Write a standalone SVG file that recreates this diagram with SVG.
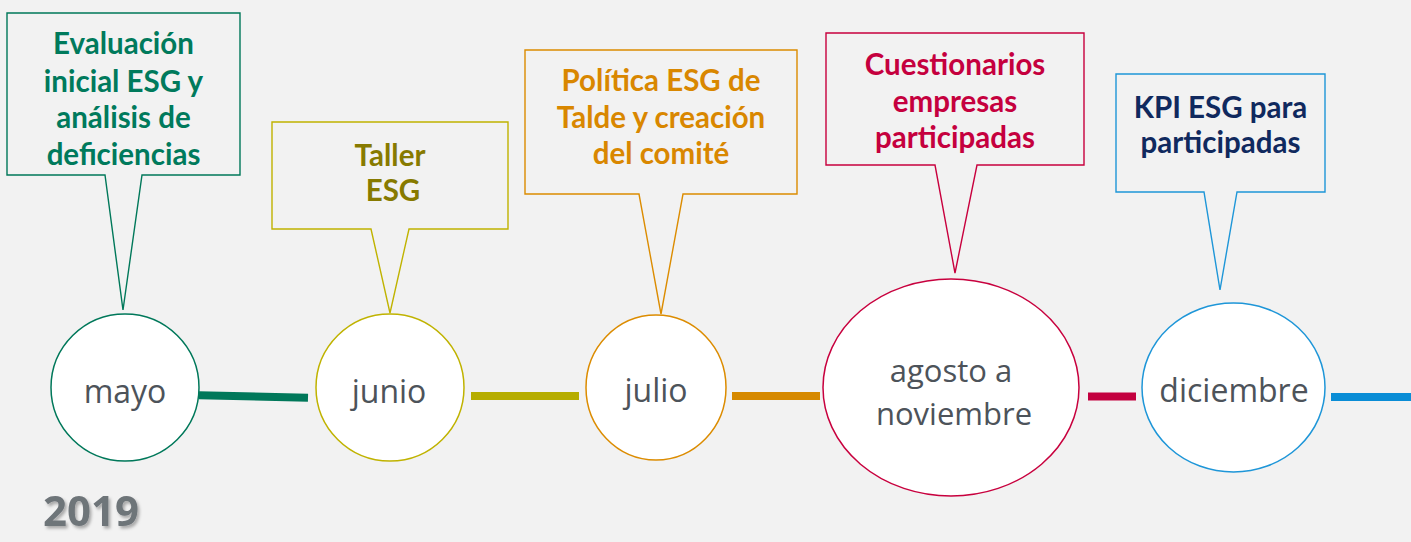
<svg xmlns="http://www.w3.org/2000/svg" width="1411" height="542" viewBox="0 0 1411 542">
<style>
.bg{fill:#f2f2f2}
.box{fill:#f2f2f2;stroke-width:1.4;stroke-linejoin:miter}
.node{fill:#ffffff;stroke-width:1.5}
.lbl{font-family:"Lato","Open Sans","Liberation Sans",sans-serif;font-weight:700;font-size:29.5px;text-anchor:middle}
.mon{font-family:"Open Sans","Noto Sans","Liberation Sans",sans-serif;font-weight:400;font-size:32px;fill:#4d535a;text-anchor:middle}
.mon2{font-size:31px}
.con{stroke-width:8;fill:none;stroke-linecap:butt}
.year{font-family:"Open Sans","Liberation Sans",sans-serif;font-weight:700;font-size:42px;fill:#6e7479}
</style>
<defs>
<filter id="shadow" x="-20%" y="-20%" width="150%" height="160%">
<feDropShadow dx="2" dy="2.5" stdDeviation="1.5" flood-color="#000000" flood-opacity="0.3"/>
</filter>
</defs>
<rect class="bg" x="0" y="0" width="1411" height="542"/>

<g id="connectors">
<line class="con" x1="199" y1="395.3" x2="308" y2="397.8" stroke="#00785a"/>
<line class="con" x1="471" y1="396" x2="579" y2="396" stroke="#b6ad00"/>
<line class="con" x1="732" y1="396" x2="820" y2="396" stroke="#d68900"/>
<line class="con" x1="1088" y1="396.5" x2="1136" y2="396.5" stroke="#c3003f"/>
<line class="con" x1="1331" y1="397" x2="1411" y2="397" stroke="#0a8dd6"/>
</g>

<g id="callout-evaluacion">
<path class="box" stroke="#00785a" d="M7,13 H240 V175 H142 L123,310 L105,175 H7 Z"/>
<text class="lbl" fill="#007a5c" x="123.5" y="54">Evaluación</text>
<text class="lbl" fill="#007a5c" x="123.5" y="91.5">inicial ESG y</text>
<text class="lbl" fill="#007a5c" x="123.5" y="128">análisis de</text>
<text class="lbl" fill="#007a5c" x="123.5" y="164.5">deficiencias</text>
</g>

<g id="callout-taller">
<path class="box" stroke="#c0b300" d="M272,122 H508 V229 H409 L390,313 L371,229 H272 Z"/>
<text class="lbl" fill="#877a00" x="390" y="165.5">Taller</text>
<text class="lbl" fill="#877a00" x="393" y="201">ESG</text>
</g>

<g id="callout-politica">
<path class="box" stroke="#dc8c00" d="M525,50 H797 V194 H683 L661,314 L639,194 H525 Z"/>
<text class="lbl" fill="#d98700" x="661" y="91">Política ESG de</text>
<text class="lbl" fill="#d98700" x="661" y="128">Talde y creación</text>
<text class="lbl" fill="#d98700" x="661" y="164">del comité</text>
</g>

<g id="callout-cuestionarios">
<path class="box" stroke="#c8003e" d="M826,33 H1084 V165 H977 L955,273 L935,165 H826 Z"/>
<text class="lbl" fill="#c5003e" x="955" y="75">Cuestionarios</text>
<text class="lbl" fill="#c5003e" x="955" y="112">empresas</text>
<text class="lbl" fill="#c5003e" x="955" y="148">participadas</text>
</g>

<g id="callout-kpi">
<path class="box" stroke="#1e96d8" d="M1116,74 H1325 V192 H1237 L1220,290 L1204,192 H1116 Z"/>
<text class="lbl" fill="#10295e" x="1220.5" y="118">KPI ESG para</text>
<text class="lbl" fill="#10295e" x="1220.5" y="153">participadas</text>
</g>

<g id="node-mayo">
<ellipse class="node" stroke="#00785a" cx="125" cy="387.5" rx="74" ry="73.5"/>
<text class="mon" x="125" y="403">mayo</text>
</g>

<g id="node-junio">
<ellipse class="node" stroke="#c0b300" cx="390" cy="387.5" rx="74" ry="73.5"/>
<text class="mon" x="389" y="403">junio</text>
</g>

<g id="node-julio">
<ellipse class="node" stroke="#dc8c00" cx="656" cy="387.5" rx="70" ry="72.5"/>
<text class="mon" x="656" y="402">julio</text>
</g>

<g id="node-agosto">
<ellipse class="node" stroke="#c8003e" cx="951" cy="387.5" rx="128" ry="108.5"/>
<text class="mon mon2" x="951" y="381.5">agosto a</text>
<text class="mon mon2" x="954" y="424.5">noviembre</text>
</g>

<g id="node-diciembre">
<ellipse class="node" stroke="#1e96d8" cx="1233.5" cy="387.5" rx="91.5" ry="84.5"/>
<text class="mon" x="1234" y="402">diciembre</text>
</g>

<text class="year" x="43" y="526" filter="url(#shadow)">2019</text>
</svg>
